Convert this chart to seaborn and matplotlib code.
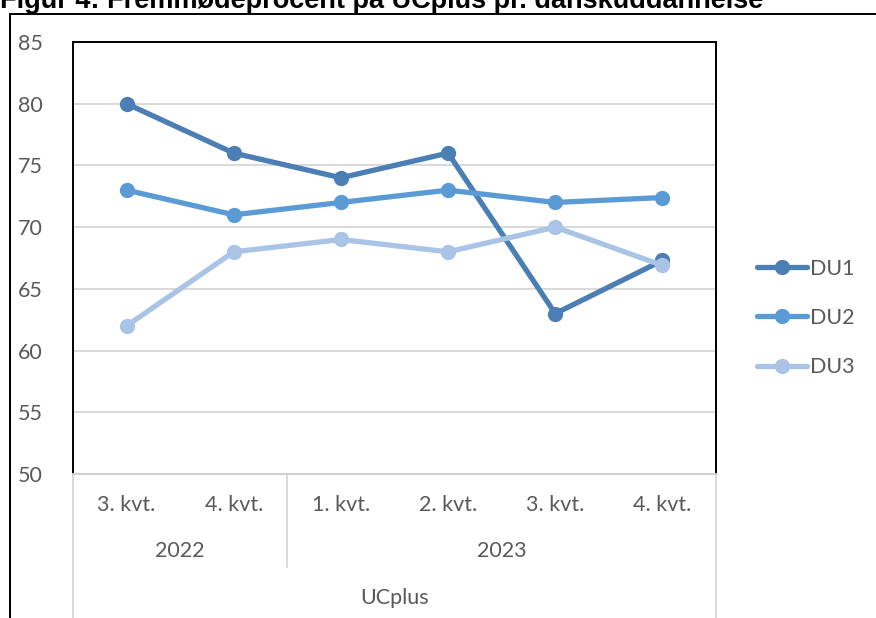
import numpy as np
import pandas as pd
import matplotlib.pyplot as plt
import seaborn as sns
from matplotlib.patches import Rectangle

# data
years = ["2022", "2023"]
quarters = ["3. kvt.", "4. kvt.", "1. kvt.", "2. kvt.", "3. kvt.", "4. kvt."]
quarter_year = ["2022", "2022", "2023", "2023", "2023", "2023"]
du1 = [80, 76, 74, 76, 63, 67.3]
du2 = [73, 71, 72, 73, 72, 72.4]
du3 = [62, 68, 69, 68, 70, 66.9]
series = {"DU1": du1, "DU2": du2, "DU3": du3}
colors = {"DU1": "#4A7EB4", "DU2": "#5B9BD5", "DU3": "#A9C4E6"}

periods = [f"{y}-{i}" for i, y in enumerate(quarter_year)]
df = pd.DataFrame([
    {"period": p, "value": v, "serie": name}
    for name, vals in series.items()
    for p, v in zip(periods, vals)
])

sns.set_style("white")
plt.rcParams["font.family"] = ["Lato", "DejaVu Sans"]
txt = "#595959"
fs = 15.5

fig = plt.figure(figsize=(8.76, 6.18), dpi=100)
ax = fig.add_axes([73 / 876, 1 - 474 / 618, (716 - 73) / 876, (474 - 42) / 618])

sns.lineplot(data=df, x="period", y="value", hue="serie", palette=colors,
             marker="o", markersize=11, markeredgewidth=0, linewidth=3.8,
             sort=False, ax=ax)

ax.set_xlim(-0.5, len(periods) - 0.5)
ax.set_ylim(50, 85)
ax.set_yticks(np.arange(50, 86, 5))
ax.set_xticks([])
ax.set_xlabel("")
ax.set_ylabel("")
ax.tick_params(axis="y", length=0, pad=22, labelsize=fs, labelcolor=txt)
for v in range(55, 85, 5):
    ax.axhline(v, color="#D9D9D9", lw=1.4, zorder=0)

for s in ["top", "left", "right"]:
    ax.spines[s].set_color("black")
    ax.spines[s].set_linewidth(1.4)
ax.spines["bottom"].set_color("#D0D0D0")
ax.spines["bottom"].set_linewidth(1.4)

# multi-level category axis
trans = ax.get_xaxis_transform()
for i, q in enumerate(quarters):
    ax.text(i, -0.072, q, transform=trans, ha="center", va="center",
            fontsize=fs, color=txt)
n = len(quarters)
pos = 0
for y in years:
    cnt = quarter_year.count(y)
    ax.text(pos + (cnt - 1) / 2, -0.178, y, transform=trans, ha="center",
            va="center", fontsize=fs, color=txt)
    pos += cnt
ax.text((n - 1) / 2, -0.287, "UCplus", transform=trans, ha="center",
        va="center", fontsize=fs, color=txt)

grey = "#D9D9D9"
ax.plot([-0.5, -0.5], [0, -0.34], transform=trans, color=grey, lw=1.4, clip_on=False)
ax.plot([n - 0.5, n - 0.5], [0, -0.34], transform=trans, color=grey, lw=1.4, clip_on=False)
split = quarter_year.count(years[0]) - 0.5
ax.plot([split, split], [0, -0.215], transform=trans, color=grey, lw=1.4, clip_on=False)

# legend
handles, labels = ax.get_legend_handles_labels()
ax.legend(handles, labels, loc="center left", frameon=False,
          bbox_to_anchor=(738 / 876, 1 - 318 / 618), bbox_transform=fig.transFigure,
          fontsize=fs, labelcolor=txt, handlelength=2.3, handletextpad=0.15,
          labelspacing=1.35)

# outer chart frame
fig.patches.append(Rectangle((10 / 876, -0.1), 1.2, 1 - 14 / 618 + 0.1,
                             transform=fig.transFigure, fill=False,
                             edgecolor="black", lw=1.4))

fig.text(0.0, 1 - 8 / 618, "Figur 4: Fremmødeprocent på UCplus pr. danskuddannelse",
         family=["Liberation Sans", "DejaVu Sans"], fontweight="bold", fontsize=19.5,
         ha="left", va="baseline", color="black")

fig.savefig("out.png", dpi=100)
